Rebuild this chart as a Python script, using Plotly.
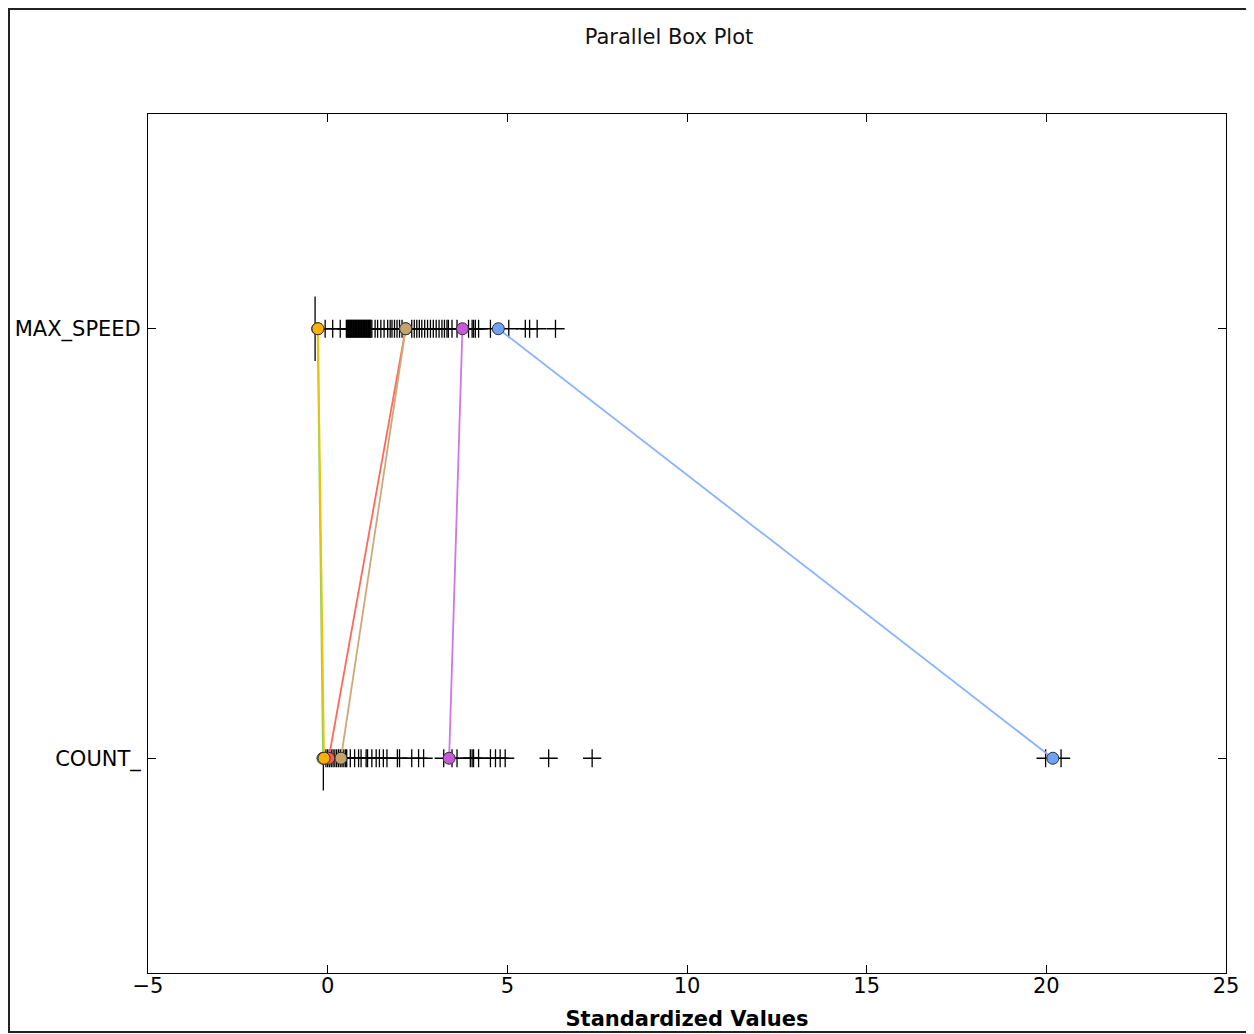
import plotly.graph_objects as go

# ---- data ----
variables = ["COUNT_", "MAX_SPEED"]          # y positions 1, 2
tick_values_x = [-5, 0, 5, 10, 15, 20, 25]

# box (degenerate: q1 = median = q3) centre for each variable
box_center_count = -0.12
box_center_speed = -0.35

# outlier (+) values, standardized
fliers_speed = [-0.07, 0.14, 0.35, 0.52, 0.54, 0.56, 0.58, 0.6, 0.62, 0.64, 0.66,
                0.68, 0.7, 0.72, 0.74, 0.76, 0.78, 0.8, 0.82, 0.84, 0.86, 0.88,
                0.9, 0.92, 0.94, 0.96, 0.98, 1.0, 1.02, 1.04, 1.06, 1.08, 1.1,
                1.12, 1.14, 1.16, 1.18, 1.2, 1.23, 1.32, 1.39, 1.48, 1.57, 1.67,
                1.74, 1.79, 1.86, 1.93, 2.0, 2.07, 2.34, 2.41, 2.48, 2.55, 2.62,
                2.7, 2.78, 2.86, 2.94, 3.02, 3.1, 3.18, 3.25, 3.32, 3.36, 3.46,
                3.6, 3.92, 4.02, 4.06, 4.11, 4.2, 4.53, 5.04, 5.5, 5.62, 5.83, 6.34]
fliers_count = [-0.05, 0.0, 0.05, 0.1, 0.15, 0.2, 0.25, 0.3, 0.35, 0.4, 0.45, 0.5,
                0.53, 0.63, 0.75, 0.86, 0.93, 1.07, 1.11, 1.23, 1.35, 1.44, 1.55,
                1.65, 1.94, 2.0, 2.34, 2.53, 2.67, 3.23, 3.46, 3.6, 3.97, 4.02,
                4.06, 4.2, 4.53, 4.67, 4.8, 4.94, 6.15, 7.36, 19.98, 20.41]

# selected observations: (COUNT_, MAX_SPEED)
obs_names = ["green", "red", "tan", "purple", "blue", "orange"]
obs_count = [-0.13, 0.03, 0.37, 3.38, 20.18, -0.1]
obs_speed = [-0.28, 2.17, 2.17, 3.75, 4.75, -0.27]
line_colors = ["#8fd45a", "#ff6a5a", "#d0a878", "#cc77ee", "#88b4ff", "#f5c000"]
marker_colors = ["#8fd45a", "#ff5a4a", "#c4a46a", "#c65ad8", "#6fa2f5", "#ffb000"]

fig = go.Figure()

# fliers
fig.add_trace(go.Scatter(x=fliers_speed, y=[2] * len(fliers_speed), mode="markers",
                         marker=dict(symbol="cross-thin", size=13,
                                     line=dict(width=1.3, color="black")),
                         showlegend=False, hoverinfo="x"))
fig.add_trace(go.Scatter(x=fliers_count, y=[1] * len(fliers_count), mode="markers",
                         marker=dict(symbol="cross-thin", size=13,
                                     line=dict(width=1.3, color="black")),
                         showlegend=False, hoverinfo="x"))

# degenerate boxes drawn as vertical segments
for c, pos in [(box_center_speed, 2), (box_center_count, 1)]:
    fig.add_trace(go.Scatter(x=[c, c], y=[pos - 0.075, pos + 0.075], mode="lines",
                             line=dict(color="black", width=1.3),
                             showlegend=False, hoverinfo="skip"))

# observation lines
for i in range(len(obs_names)):
    fig.add_trace(go.Scatter(x=[obs_speed[i], obs_count[i]], y=[2, 1],
                             mode="lines+markers",
                             line=dict(color=line_colors[i], width=1.8),
                             marker=dict(size=12, color=marker_colors[i],
                                         line=dict(color="#333333", width=1)),
                             name=obs_names[i], showlegend=False))

# page is offset by the 8px body margin; layout coordinates compensate
L, T, PW, PH = 140, 106, 1078, 859
fig.update_layout(
    width=1254, height=1034,
    paper_bgcolor="white", plot_bgcolor="white",
    margin=dict(l=L, r=1254 - L - PW, t=T, b=1034 - T - PH, autoexpand=False),
    font=dict(family="DejaVu Sans", size=21, color="black"),
    title=dict(text="Parallel Box Plot", x=(661) / 1254, xanchor="center",
               y=1 - 29 / 1034, yanchor="middle",
               font=dict(family="DejaVu Sans", size=21, color="#111111")),
    xaxis=dict(range=[-5, 25], tickvals=tick_values_x, ticks="inside", ticklen=8,
               mirror="ticks", showline=True, linecolor="black", linewidth=1,
               showgrid=False, zeroline=False, tickcolor="black",
               ticklabelstandoff=-6, automargin=False,
               title=dict(text="<b>Standardized Values</b>", standoff=14,
                          font=dict(size=21))),
    yaxis=dict(range=[0.5, 2.5], tickvals=[1, 2], ticktext=variables,
               ticks="inside", ticklen=8, mirror="ticks", showline=True,
               linecolor="black", linewidth=1, showgrid=False, zeroline=False,
               tickcolor="black", ticklabelstandoff=2, automargin=False),
    shapes=[dict(type="rect", xref="paper", yref="paper",
                 x0=(1 - L) / PW, x1=(1242 - L) / PW,
                 y0=(T + PH - 1024) / PH, y1=(T + PH - 1) / PH,
                 line=dict(color="#222222", width=2), layer="below")],
)

fig.write_html("out.html")
